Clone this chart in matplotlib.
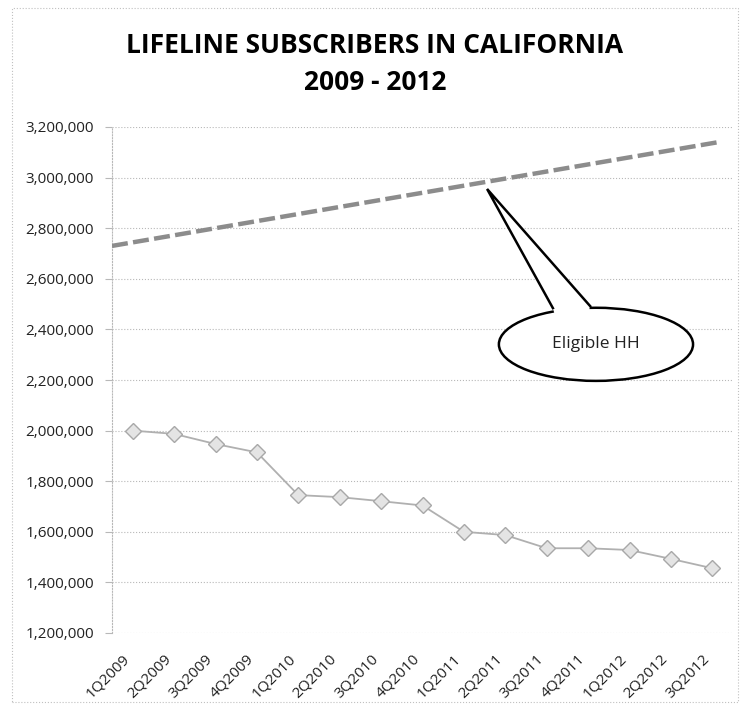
import matplotlib
matplotlib.use("Agg")
import matplotlib.pyplot as plt
from matplotlib.patches import Ellipse, Polygon, Rectangle
from matplotlib.ticker import FuncFormatter

plt.rcParams['font.family'] = ['Open Sans', 'DejaVu Sans']

# data
quarters = ['1Q2009', '2Q2009', '3Q2009', '4Q2009', '1Q2010', '2Q2010', '3Q2010', '4Q2010',
            '1Q2011', '2Q2011', '3Q2011', '4Q2011', '1Q2012', '2Q2012', '3Q2012']
subscribers = [2000000, 1987000, 1947000, 1914000, 1745000, 1737000, 1721000, 1704000,
               1600000, 1587000, 1535000, 1535000, 1528000, 1493000, 1456000]
# eligible households: straight trend line, start / end of the drawn line
eligible_pos = [-0.5, 14.14]
eligible_hh = [2730000, 3140000]

W, H = 740, 706
fig = plt.figure(figsize=(W / 100, H / 100), dpi=100)

def px(x, y):
    return x / W, 1 - y / H

# plot area in pixels: left 112, right 733, top 127, bottom 633
ax = fig.add_axes([112 / W, 1 - 633 / H, (733 - 112) / W, (633 - 127) / H])

xs = list(range(len(quarters)))
ax.plot(xs, subscribers, color='#b0b0b0', lw=1.3, marker='D', ms=8,
        mfc='#e4e4e4', mec='#a8a8a8', mew=1.0, zorder=3)
ax.plot(eligible_pos, eligible_hh, color='#8c8c8c', lw=3.2,
        dashes=(3.6, 1.2), zorder=3)

ax.set_xlim(-0.5, len(quarters) - 0.5)
ax.set_ylim(1200000, 3200000)
ax.set_yticks(range(1200000, 3200001, 200000))
ax.yaxis.set_major_formatter(FuncFormatter(lambda v, p: f'{int(v):,}'))
ax.set_xticks(xs)
ax.set_xticklabels(quarters, rotation=45, ha='right', va='top')

for s in ['top', 'right', 'bottom']:
    ax.spines[s].set_visible(False)
ax.spines['left'].set_color('#b8b8b8')
ax.spines['left'].set_linestyle(':')
ax.spines['left'].set_linewidth(0.8)
ax.grid(axis='y', color='#b8b8b8', ls=':', lw=0.8)
ax.tick_params(axis='y', length=5, color='#b8b8b8', labelsize=11, pad=8, labelcolor='#222222')
ax.tick_params(axis='x', length=0, labelsize=11, pad=13, labelcolor='#222222')

# callout "Eligible HH"
ell = Ellipse((11.19, 2341000), 4.69, 289000, facecolor='white', edgecolor='black',
              lw=1.8, zorder=5)
ax.add_patch(ell)
tip = (8.56, 2955000)
lb = (10.15, 2484000)
rb = (11.05, 2492000)
cover = Polygon([tip, lb, (lb[0] + 0.05, lb[1] - 30000), (rb[0] - 0.05, rb[1] - 30000), rb],
                closed=True, facecolor='white', edgecolor='none', zorder=6)
ax.add_patch(cover)
ax.plot([lb[0], tip[0], rb[0]], [lb[1], tip[1], rb[1]], color='black', lw=1.8,
        solid_joinstyle='miter', zorder=7)
ax.text(11.19, 2341000, 'Eligible HH', ha='center', va='center', fontsize=12.5,
        color='#222222', zorder=8)

fig.text(*px(375, 64), 'LIFELINE SUBSCRIBERS IN CALIFORNIA\n2009 - 2012', ha='center', va='center',
         fontsize=19, fontweight='bold', linespacing=1.5, color='black')

# outer chart border
fig.patches.append(Rectangle(px(12, 702), (738 - 12) / W, (702 - 8) / H, transform=fig.transFigure,
                             fill=False, edgecolor='#c0c0c0', ls=':', lw=0.8))

fig.savefig('out.png', dpi=100)
